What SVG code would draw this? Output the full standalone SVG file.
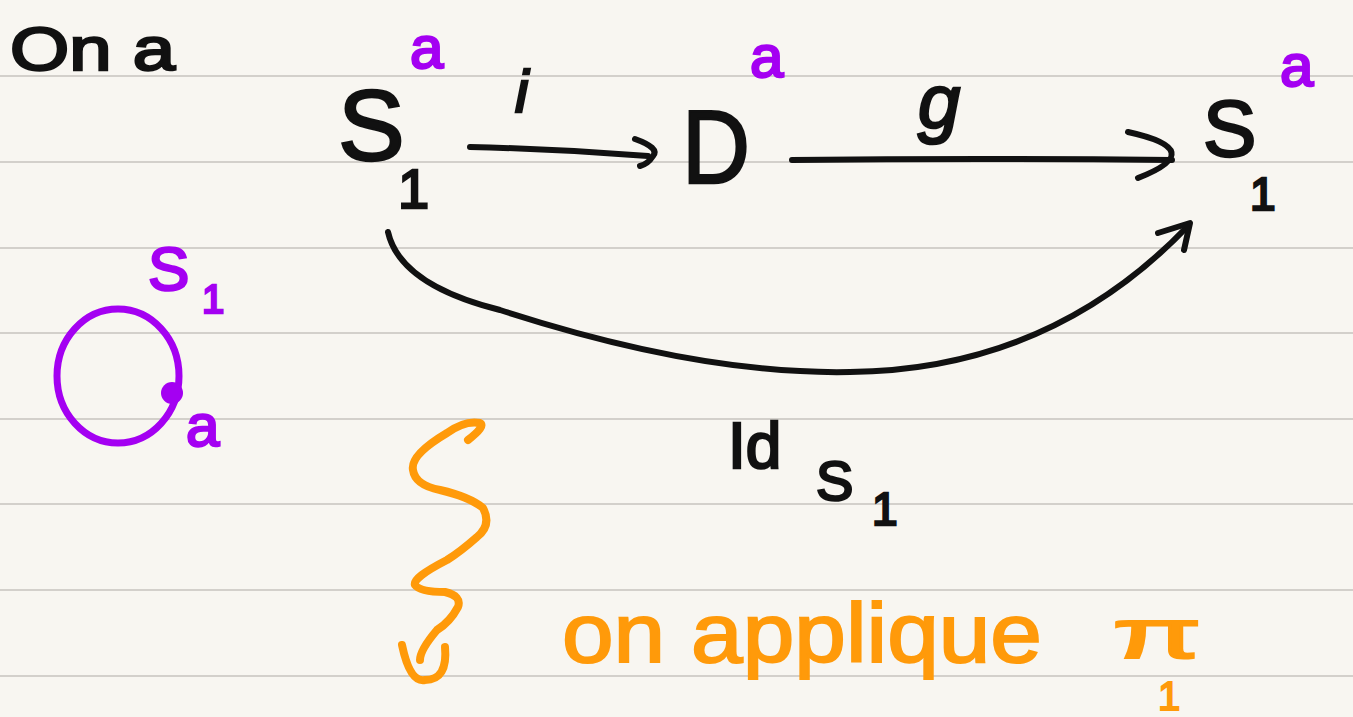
<svg xmlns="http://www.w3.org/2000/svg" width="1353" height="717" viewBox="0 0 1353 717">
<defs>
<style>
.rule{stroke:#d3d0cb;stroke-width:2}
.ink{fill:#111;font-family:"Liberation Sans",Arial,sans-serif;stroke:#111;stroke-width:2.5}
.pur{fill:#a400f2;font-family:"Liberation Sans",Arial,sans-serif;stroke:#a400f2;stroke-width:2.5}
.org{fill:#ff9a0a;font-family:"Liberation Sans",Arial,sans-serif;stroke:#ff9a0a;stroke-width:2}
.ln{fill:none;stroke:#111;stroke-width:6;stroke-linecap:round;stroke-linejoin:round}
.lp{fill:none;stroke:#a400f2;stroke-width:7;stroke-linecap:round;stroke-linejoin:round}
.lo{fill:none;stroke:#ff9a0a;stroke-width:8;stroke-linecap:round;stroke-linejoin:round}
</style>
</defs>
<rect width="1353" height="717" fill="#f8f6f1"/>
<g id="rules">
<line class="rule" x1="0" y1="76" x2="1353" y2="76"/>
<line class="rule" x1="0" y1="162" x2="1353" y2="162"/>
<line class="rule" x1="0" y1="248" x2="1353" y2="248"/>
<line class="rule" x1="0" y1="333" x2="1353" y2="333"/>
<line class="rule" x1="0" y1="419" x2="1353" y2="419"/>
<line class="rule" x1="0" y1="504" x2="1353" y2="504"/>
<line class="rule" x1="0" y1="590" x2="1353" y2="590"/>
<line class="rule" x1="0" y1="676" x2="1353" y2="676"/>
</g>
<g id="title">
<text class="ink" x="10" y="70" font-size="62" textLength="165" lengthAdjust="spacingAndGlyphs">On a</text>
</g>
<g id="node-S1-left">
<text class="ink" x="338" y="160" font-size="100">S</text>
<text class="ink" x="398" y="208" font-size="56">1</text>
<text class="pur" x="410" y="68" font-size="60">a</text>
</g>
<g id="node-D">
<text class="ink" x="682" y="183" font-size="104" textLength="68" lengthAdjust="spacingAndGlyphs">D</text>
<text class="pur" x="750" y="77" font-size="60">a</text>
</g>
<g id="node-S1-right">
<text class="ink" x="1203" y="156" font-size="80">S</text>
<text class="ink" x="1250" y="210" font-size="46">1</text>
<text class="pur" x="1280" y="86" font-size="60">a</text>
</g>
<g id="connectors">
<path class="ln" d="M470 147 Q560 149 648 156"/>
<path class="ln" d="M635 139 Q660 148 653 156 Q648 164 640 166"/>
<text class="ink" x="515" y="112" font-size="60" font-style="italic">i</text>
<path class="ln" d="M792 160 Q980 158 1172 160"/>
<path class="ln" d="M1128 132 Q1210 150 1138 178"/>
<text class="ink" x="918" y="128" font-size="76" font-style="italic">g</text>
<path class="ln" d="M388 232 Q400 285 500 310 Q700 375 850 372 Q1050 370 1188 226"/>
<path class="ln" d="M1158 233 L1190 223 L1184 250"/>
<text class="ink" x="728" y="468" font-size="64">Id</text>
<text class="ink" x="816" y="500" font-size="56">S</text>
<text class="ink" x="872" y="525" font-size="46">1</text>
</g>
<g id="circle-S1">
<ellipse class="lp" cx="118" cy="376" rx="61" ry="67"/>
<circle cx="172" cy="393" r="11" fill="#a400f2"/>
<text class="pur" x="148" y="290" font-size="62">S</text>
<text class="pur" x="202" y="313" font-size="40">1</text>
<text class="pur" x="186" y="446" font-size="60">a</text>
</g>
<g id="apply-pi1">
<path class="lo" d="M468 440 Q486 426 480 423 Q465 420 447 433 Q410 455 413 470 Q415 485 440 490 Q470 497 483 508 Q492 525 477 537 Q460 552 447 560 Q412 578 415 585 Q420 592 445 592 Q462 596 458 607 Q450 622 437 630 Q420 650 420 660"/>
<path class="lo" d="M402 645 Q410 683 425 680 Q448 680 445 647"/>
<text class="org" x="562" y="662" font-size="84" textLength="480" lengthAdjust="spacingAndGlyphs">on applique</text>
<text class="org" x="1112" y="658" font-size="70" stroke-width="0" textLength="90" lengthAdjust="spacingAndGlyphs">π</text>
<text class="org" x="1158" y="710" font-size="40">1</text>
</g>
</svg>
